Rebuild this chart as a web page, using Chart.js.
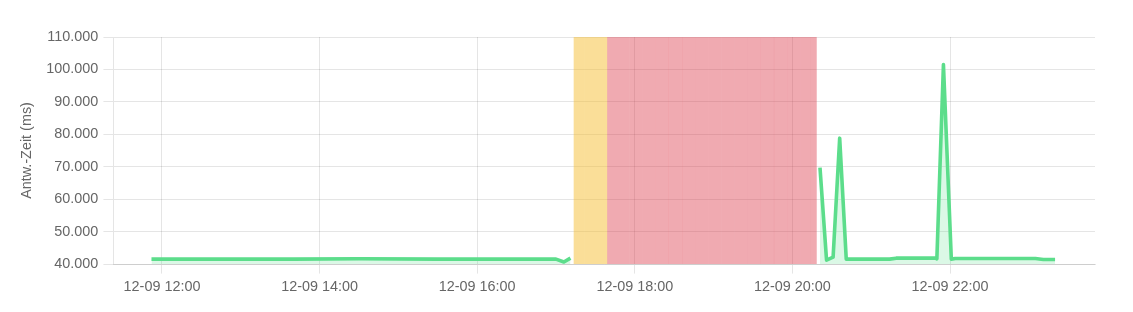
<!DOCTYPE html>
<html>
<head>
<meta charset="utf-8">
<script src="https://cdn.jsdelivr.net/npm/chart.js@4/dist/chart.umd.min.js"></script>
<style>
  html, body { margin: 0; padding: 0; background: #fff; }
  #wrap { width: 1133px; height: 312px; }
</style>
</head>
<body>
<div id="wrap"><canvas id="pingChart"></canvas></div>
<script>
// Antwortzeiten vom 12-09 (Zeit als "HH:MM")
const dayLabel = '12-09';

const pingTimes = ['11:52', '12:40', '13:40', '14:30', '15:30', '16:30', '17:00', '17:06', '17:11',
    '17:40',
    '20:21', '20:26', '20:31', '20:36', '20:41', '21:14', '21:19', '21:49', '21:50', '21:55',
    '22:01', '22:04', '23:05', '23:11', '23:20'];
const pingValues = [41500, 41500, 41500, 41600, 41500, 41500, 41500, 40600, 41800,
    null,
    69700, 41200, 42100, 78800, 41500, 41500, 41800, 41800, 41600, 101500,
    41500, 41700, 41700, 41400, 41400];

// Status: 0 = up, 1 = pending, 2 = down
const statusTimes = ['17:11', '17:16', '17:27', '17:51', '18:01', '18:11', '18:21', '18:31', '18:41',
    '18:51', '19:01', '19:11', '19:21', '19:31', '19:41', '19:51', '20:01', '20:11', '20:16', '20:21'];
const statusCodes = [0, 1, 1, 2, 2, 2, 2, 2, 2, 2, 2, 2, 2, 2, 2, 2, 2, 2, 2, 0];

const xTickTimes = ['12:00', '14:00', '16:00', '18:00', '20:00', '22:00'];
const yTickValues = [40000, 50000, 60000, 70000, 80000, 90000, 100000, 110000];

const statusColors = ['rgba(0,0,0,0)', 'rgba(245,190,50,0.5)', 'rgba(220,53,69,0.42)'];

function toMin(t) {
    const p = t.split(':');
    return parseInt(p[0], 10) * 60 + parseInt(p[1], 10);
}

function fmtTime(v) {
    const h = Math.floor(v / 60);
    const m = Math.round(v - h * 60);
    return dayLabel + ' ' + String(h).padStart(2, '0') + ':' + String(m).padStart(2, '0');
}

function fmtNumber(v) {
    return String(Math.round(v)).replace(/\B(?=(\d{3})+(?!\d))/g, '.');
}

const font = { family: 'Arial, "Liberation Sans", Helvetica, sans-serif', size: 14.4 };

function createPingChart() {
    const ctx = document.getElementById('pingChart').getContext('2d');
    new Chart(ctx, {
        type: 'line',
        data: {
            datasets: [{
                label: 'ping',
                data: pingTimes.map((t, i) => ({ x: toMin(t), y: pingValues[i] })),
                fill: 'origin',
                tension: 0,
                borderWidth: 3.6,
                borderJoinStyle: 'round',
                borderColor: '#5CDD8B',
                backgroundColor: 'rgba(92,221,139,0.22)',
                pointRadius: 0,
                yAxisID: 'y'
            }, {
                type: 'bar',
                label: 'status',
                data: statusTimes.map((t, i) => ({ x: toMin(t), y: statusCodes[i] ? 1 : null })),
                backgroundColor: statusCodes.map(c => statusColors[c]),
                borderColor: 'rgba(0,0,0,0)',
                barThickness: 'flex',
                barPercentage: 1,
                categoryPercentage: 1,
                inflateAmount: 0.05,
                yAxisID: 'y1'
            }]
        },
        options: {
            responsive: true,
            maintainAspectRatio: false,
            animation: false,
            layout: { padding: { left: 14, right: 38, top: 37, bottom: 0 } },
            plugins: { legend: { display: false }, tooltip: { enabled: false } },
            scales: {
                x: {
                    type: 'linear',
                    offset: false,
                    min: toMin('11:23') - 0.3,
                    max: toMin('23:50') + 0.4,
                    afterBuildTicks: scale => {
                        scale.ticks = xTickTimes.map(t => ({ value: toMin(t) }));
                    },
                    afterFit: scale => { scale.height = 48; },
                    ticks: { font: font, color: '#666', maxRotation: 0, padding: 4.8, callback: v => fmtTime(v) },
                    grid: { offset: false, color: 'rgba(0,0,0,0.1)', tickLength: 9.6 }
                },
                y: {
                    min: 40000,
                    max: 110000,
                    afterBuildTicks: scale => {
                        scale.ticks = yTickValues.map(v => ({ value: v }));
                    },
                    afterFit: scale => { scale.width = 99; },
                    ticks: { font: font, color: '#666', padding: 5.2, callback: v => fmtNumber(v) },
                    grid: { color: 'rgba(0,0,0,0.1)', tickLength: 9.6 },
                    title: { display: true, text: 'Antw.-Zeit (ms)', font: font, color: '#666', padding: { top: 4, bottom: 4 } }
                },
                y1: {
                    display: false,
                    min: 0,
                    max: 1
                }
            }
        }
    });
}

createPingChart();
</script>
</body>
</html>
